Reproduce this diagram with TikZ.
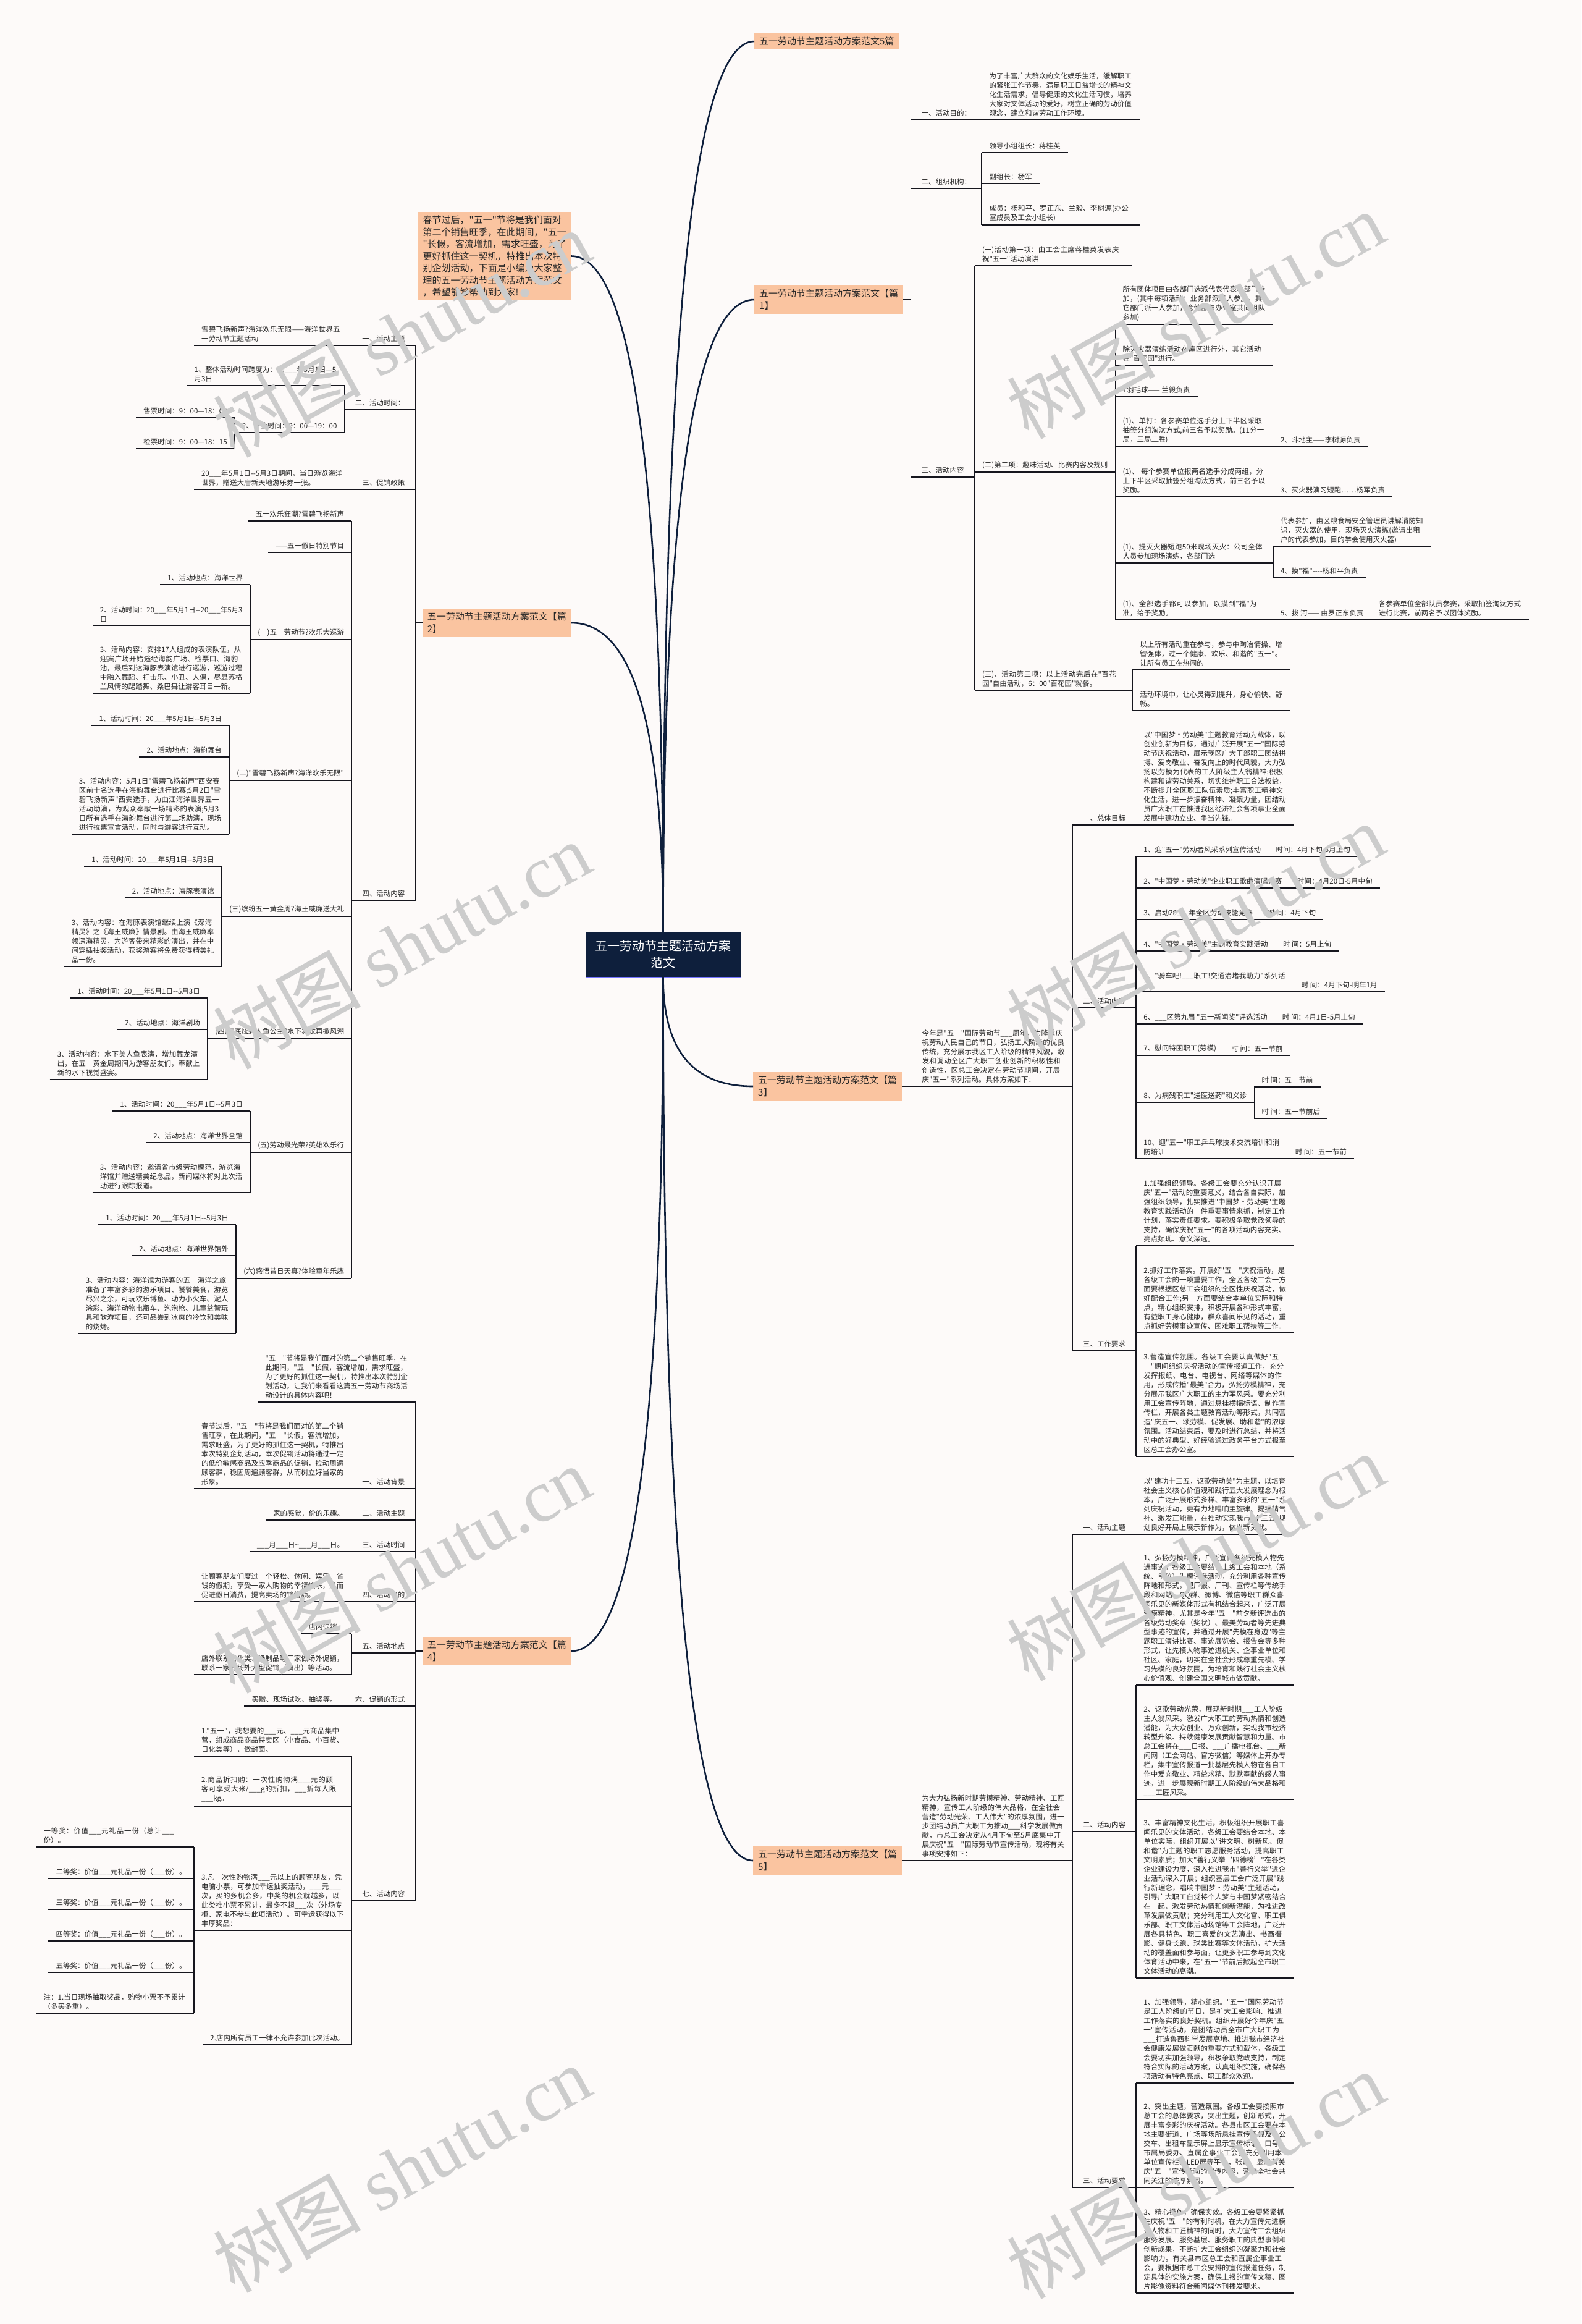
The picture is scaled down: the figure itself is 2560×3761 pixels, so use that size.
\documentclass[tikz,border=0pt]{standalone}
\usepackage{fontspec}
\setmainfont{Noto Sans CJK SC}[Ligatures=TeXOff]
\newfontfamily\wmfont{Liberation Serif}
\usetikzlibrary{calc}
\XeTeXlinebreaklocale "zh"
\XeTeXlinebreakskip=0pt plus 1pt
\definecolor{bgc}{RGB}{253,250,249}
\definecolor{linec}{RGB}{22,22,30}
\definecolor{navy}{RGB}{14,31,60}
\definecolor{peach}{RGB}{250,196,160}
\newcommand\lf{\fontsize{11.5}{15}\selectfont}
\newcommand\hf{\fontsize{15}{19.5}\selectfont}
\newcommand\bl{\_\_\_}
\newcommand\dd{-{}-}

\begin{document}
\begin{tikzpicture}[x=1pt, y=-1pt,
  uline/.style={line width=1.8pt, draw=linec},
  branch/.style={line width=2.6pt, draw=navy},
  txt/.style={inner xsep=12pt, inner ysep=5pt, align=left, font=\lf, text=black!85,
    append after command={(\tikzlastnode.south west) edge[uline] (\tikzlastnode.south east)}},
  lab/.style={txt, inner xsep=17pt},
  para/.style={txt, text width=#1}, para/.default=231pt,
  head/.style={fill=peach, inner xsep=8pt, inner ysep=6pt, align=left, font=\hf, text=black!85},
  rootbox/.style={fill=navy, draw=blue!55!white, line width=0.8pt, text=white, align=center,
    font=\fontsize{20}{27}\selectfont, minimum width=251pt, minimum height=73pt},
  wmark/.style={rotate=29, text=black!20, font=\fontsize{120}{120}\selectfont}]
\useasboundingbox (0,0) rectangle (2560,3761);
\fill[bgc] (0,0) rectangle (2560,3761);

% root and main branches
\node[rootbox] (root) at (1073.5,1544.5) {五一劳动节主题活动方案\\范文};
\node[head, anchor=west] (h5) at (1221,67) {五一劳动节主题活动方案范文5篇};
\node[head, anchor=west] (h1) at (1221,485) {五一劳动节主题活动方案范文【篇\\1】};
\node[head, anchor=east] (h0) at (925,414.5) {春节过后，"五一"节将是我们面对\\第二个销售旺季，在此期间，"五一\\"长假，客流增加，需求旺盛，为了\\更好抓住这一契机，特推出本次特\\别企划活动，下面是小编为大家整\\理的五一劳动节主题活动方案范文\\，希望能够帮助到大家!};
\node[head, anchor=east] (h2) at (925,1008) {五一劳动节主题活动方案范文【篇\\2】};
\node[head, anchor=west] (h3) at (1219,1758) {五一劳动节主题活动方案范文【篇\\3】};
\node[head, anchor=east] (h4) at (925,2672) {五一劳动节主题活动方案范文【篇\\4】};
\node[head, anchor=west] (h6) at (1219,3011) {五一劳动节主题活动方案范文【篇\\5】};
\foreach \h/\a in {h5/west, h1/west, h0/east, h2/east}
  \draw[branch] (root.north) .. controls ($(root.north)!0.67!(root.north |- \h.\a)$) and ($(\h.\a)!0.67!(root.north |- \h.\a)$) .. (\h.\a);
\foreach \h/\a in {h3/west, h4/east, h6/west}
  \draw[branch] (root.south) .. controls ($(root.south)!0.67!(root.south |- \h.\a)$) and ($(\h.\a)!0.67!(root.south |- \h.\a)$) .. (\h.\a);

% 篇1
\coordinate (s1) at ([xshift=12pt]h1.east);
\node[lab, anchor=south west] (p1a) at (s1 |- 0,194) {一、活动目的：};
\node[para, anchor=south west] (p1at) at (p1a.south east) {为了丰富广大群众的文化娱乐生活，缓解职工的紧张工作节奏，满足职工日益增长的精神文化生活需求，倡导健康的文化生活习惯，培养大家对文体活动的爱好，树立正确的劳动价值观念，建立和谐劳动工作环境。};
\node[lab, anchor=south west] (p1b) at (s1 |- 0,305) {二、组织机构：};
\node[txt, anchor=south west] (p1b1) at (p1b.south east |- 0,247) {领导小组组长：蒋桂英};
\node[txt, anchor=south west] (p1b2) at (p1b.south east |- 0,297) {副组长：杨军};
\node[para, anchor=south west] (p1b3) at (p1b.south east |- 0,364) {成员：杨和平、罗正东、兰毅、李树源(办公室成员及工会小组长)};
\node[lab, anchor=south west] (p1c) at (s1 |- 0,772) {三、活动内容};
\node[para, anchor=south west] (p1c1) at (p1c.south east |- 0,430) {(一)活动第一项：由工会主席蒋桂英发表庆祝"五一"活动演讲};
\node[txt, anchor=south west] (p1c2) at (p1c.south east |- 0,764) {(二)第二项：趣味活动、比赛内容及规则};
\node[para, anchor=south west] (p1c3) at (p1c.south east |- 0,1117) {(三)、活动第三项：以上活动完后在"百花园"自由活动，6：00"百花园"就餐。};
\node[para, anchor=south west] (p1d1) at (p1c2.south east |- 0,525) {所有团体项目由各部门选派代表代表本部门参加，(其中每项活动：业务部派三人参加，其它部门派一人参加，仓储部与办公室共同组队参加)};
\node[para, anchor=south west] (p1d2) at (p1c2.south east |- 0,591) {除灭火器演练活动在库区进行外，其它活动在"百花园"进行。};
\node[txt, anchor=south west] (p1d3) at (p1c2.south east |- 0,642) {1羽毛球—— 兰毅负责};
\node[para, anchor=south west] (p1d4) at (p1c2.south east |- 0,723) {(1)、单打：各参赛单位选手分上下半区采取抽签分组淘汰方式,前三名予以奖励。(11分一局，三局二胜)};
\node[txt, anchor=south west] (p1d4a) at (p1d4.south east) {2、斗地主——李树源负责};
\node[para, anchor=south west] (p1d5) at (p1c2.south east |- 0,804) {(1)、 每个参赛单位报两名选手分成两组，分上下半区采取抽签分组淘汰方式，前三名予以奖励。};
\node[txt, anchor=south west] (p1d5a) at (p1d5.south east) {3、灭火器演习短跑……杨军负责};
\node[para, anchor=south west] (p1d6) at (p1c2.south east |- 0,911) {(1)、提灭火器短跑50米现场灭火：公司全体人员参加现场演练，各部门选};
\node[para, anchor=south west] (p1d6a) at (p1d6.south east |- 0,885) {代表参加，由区粮食局安全管理员讲解消防知识，灭火器的使用，现场灭火演练(邀请出租户的代表参加，目的学会使用灭火器)};
\node[txt, anchor=south west] (p1d6b) at (p1d6.south east |- 0,935) {4、摸"福"----杨和平负责};
\node[para, anchor=south west] (p1d7) at (p1c2.south east |- 0,1003) {(1)、全部选手都可以参加，以摸到"福"为准，给予奖励。};
\node[txt, anchor=south west] (p1d7a) at (p1d7.south east) {5、拔 河—— 由罗正东负责};
\node[para, anchor=south west] (p1d7b) at (p1d7a.south east) {各参赛单位全部队员参赛，采取抽签淘汰方式进行比赛，前两名予以团体奖励。};
\node[para, anchor=south west] (p1e1) at (p1c3.south east |- 0,1084) {以上所有活动重在参与，参与中陶冶情操、增智强体，过一个健康、欢乐、和谐的"五一"。让所有员工在热闹的};
\node[para, anchor=south west] (p1e2) at (p1c3.south east |- 0,1150) {活动环境中，让心灵得到提升，身心愉快、舒畅。};
\draw[uline] (h1.east) -- (s1);
\foreach \c in {p1a,p1b,p1c} \draw[uline] (s1) |- (\c.south west);
\foreach \c in {p1b1,p1b2,p1b3} \draw[uline] (p1b.south east) |- (\c.south west);
\foreach \c in {p1c1,p1c2,p1c3} \draw[uline] (p1c.south east) |- (\c.south west);
\foreach \c in {p1d1,p1d2,p1d3,p1d4,p1d5,p1d6,p1d7} \draw[uline] (p1c2.south east) |- (\c.south west);
\foreach \c in {p1d6a,p1d6b} \draw[uline] (p1d6.south east) |- (\c.south west);
\foreach \c in {p1e1,p1e2} \draw[uline] (p1c3.south east) |- (\c.south west);

% 篇2
\coordinate (s2) at ([xshift=-11pt]h2.west);
\node[lab, anchor=south east] (p2a) at (s2 |- 0,559) {一、活动主题};
\node[para, anchor=south east] (p2at) at (p2a.south west) {雪碧飞扬新声?海洋欢乐无限——海洋世界五一劳动节主题活动};
\node[lab, anchor=south east] (p2b) at (s2 |- 0,663) {二、活动时间：};
\node[para, anchor=south east] (p2b1) at (p2b.south west |- 0,624) {1、整体活动时间跨度为：20\bl{}年5月1日—5月3日};
\node[txt, anchor=south east] (p2b2) at (p2b.south west |- 0,700) {2、营业时间：9：00—19：00};
\node[txt, anchor=south east] (p2b2a) at (p2b2.south west |- 0,676) {售票时间：9：00—18：00};
\node[txt, anchor=south east] (p2b2b) at (p2b2.south west |- 0,726) {检票时间：9：00—18：15};
\node[lab, anchor=south east] (p2c) at (s2 |- 0,792) {三、促销政策};
\node[para, anchor=south east] (p2ct) at (p2c.south west) {20\bl{}年5月1日\dd{}5月3日期间，当日游览海洋世界，赠送大唐新天地游乐券一张。};
\node[lab, anchor=south east] (p2d) at (s2 |- 0,1457) {四、活动内容};
\node[txt, anchor=south east] (p2d1) at (p2d.south west |- 0,843) {五一欢乐狂潮?雪碧飞扬新声};
\node[txt, anchor=south east] (p2d2) at (p2d.south west |- 0,894) {——五一假日特别节目};
\node[txt, anchor=south east] (p2d3) at (p2d.south west |- 0,1035) {(一)五一劳动节?欢乐大巡游};
\node[txt, anchor=south east] (p2d3a) at (p2d3.south west |- 0,946) {1、活动地点：海洋世界};
\node[para, anchor=south east] (p2d3b) at (p2d3.south west |- 0,1012) {2、活动时间：20\bl{}年5月1日\dd{}20\bl{}年5月3日};
\node[para, anchor=south east] (p2d3c) at (p2d3.south west |- 0,1122) {3、活动内容：安排17人组成的表演队伍，从迎宾广场开始途经海韵广场、检票口、海豹池，最后到达海豚表演馆进行巡游，巡游过程中融入舞蹈、打击乐、小丑、人偶，尽显苏格兰风情的踢踏舞、桑巴舞让游客耳目一新。};
\node[txt, anchor=south east] (p2d4) at (p2d.south west |- 0,1263) {(二)"雪碧飞扬新声?海洋欢乐无限"};
\node[txt, anchor=south east] (p2d4a) at (p2d4.south west |- 0,1174) {1、活动时间：20\bl{}年5月1日\dd{}5月3日};
\node[txt, anchor=south east] (p2d4b) at (p2d4.south west |- 0,1225) {2、活动地点：海韵舞台};
\node[para, anchor=south east] (p2d4c) at (p2d4.south west |- 0,1350) {3、活动内容：5月1日"雪碧飞扬新声"西安赛区前十名选手在海韵舞台进行比赛;5月2日"雪碧飞扬新声"西安选手，为曲江海洋世界五一活动助演，为观众奉献一场精彩的表演;5月3日所有选手在海韵舞台进行第二场助演，现场进行拉票宣言活动，同时与游客进行互动。};
\node[txt, anchor=south east] (p2d5) at (p2d.south west |- 0,1483) {(三)缤纷五一黄金周?海王威廉送大礼};
\node[txt, anchor=south east] (p2d5a) at (p2d5.south west |- 0,1402) {1、活动时间：20\bl{}年5月1日\dd{}5月3日};
\node[txt, anchor=south east] (p2d5b) at (p2d5.south west |- 0,1453) {2、活动地点：海豚表演馆};
\node[para, anchor=south east] (p2d5c) at (p2d5.south west |- 0,1564) {3、活动内容：在海豚表演馆继续上演《深海精灵》之《海王威廉》情景剧。由海王威廉率领深海精灵，为游客带来精彩的演出，并在中间穿插抽奖活动，获奖游客将免费获得精美礼品一份。};
\node[txt, anchor=south east] (p2d6) at (p2d.south west |- 0,1681) {(四)海底炫彩人鱼公主?水下舞龙再掀风潮};
\node[txt, anchor=south east] (p2d6a) at (p2d6.south west |- 0,1615) {1、活动时间：20\bl{}年5月1日\dd{}5月3日};
\node[txt, anchor=south east] (p2d6b) at (p2d6.south west |- 0,1666) {2、活动地点：海洋剧场};
\node[para, anchor=south east] (p2d6c) at (p2d6.south west |- 0,1747) {3、活动内容：水下美人鱼表演，增加舞龙演出，在五一黄金周期间为游客朋友们，奉献上新的水下视觉盛宴。};
\node[txt, anchor=south east] (p2d7) at (p2d.south west |- 0,1865) {(五)劳动最光荣?英雄欢乐行};
\node[txt, anchor=south east] (p2d7a) at (p2d7.south west |- 0,1798) {1、活动时间：20\bl{}年5月1日\dd{}5月3日};
\node[txt, anchor=south east] (p2d7b) at (p2d7.south west |- 0,1849) {2、活动地点：海洋世界全馆};
\node[para, anchor=south east] (p2d7c) at (p2d7.south west |- 0,1930) {3、活动内容：邀请省市级劳动模范，游览海洋馆并赠送精美纪念品，新闻媒体将对此次活动进行跟踪报道。};
\node[txt, anchor=south east] (p2d8) at (p2d.south west |- 0,2069) {(六)感悟昔日天真?体验童年乐趣};
\node[txt, anchor=south east] (p2d8a) at (p2d8.south west |- 0,1982) {1、活动时间：20\bl{}年5月1日\dd{}5月3日};
\node[txt, anchor=south east] (p2d8b) at (p2d8.south west |- 0,2032) {2、活动地点：海洋世界馆外};
\node[para, anchor=south east] (p2d8c) at (p2d8.south west |- 0,2158) {3、活动内容：海洋馆为游客的五一海洋之旅准备了丰富多彩的游乐项目、饕餮美食，游览尽兴之余，可玩欢乐博鱼、动力小火车、泥人涂彩、海洋动物电瓶车、泡泡枪、儿童益智玩具和软游项目，还可品尝到冰爽的冷饮和美味的烧烤。};
\draw[uline] (h2.west) -- (s2);
\foreach \c in {p2a,p2b,p2c,p2d} \draw[uline] (s2) |- (\c.south east);
\foreach \c in {p2b1,p2b2} \draw[uline] (p2b.south west) |- (\c.south east);
\foreach \c in {p2b2a,p2b2b} \draw[uline] (p2b2.south west) |- (\c.south east);
\foreach \c in {p2d1,p2d2,p2d3,p2d4,p2d5,p2d6,p2d7,p2d8} \draw[uline] (p2d.south west) |- (\c.south east);
\foreach \p in {p2d3,p2d4,p2d5,p2d6,p2d7,p2d8}
  \foreach \c in {a,b,c} \draw[uline] (\p.south west) |- (\p\c.south east);

% 篇3
\node[para, anchor=south west] (p3i) at ([xshift=20pt]h3.east) {今年是"五一"国际劳动节\bl{}周年，为隆重庆祝劳动人民自己的节日，弘扬工人阶级的优良传统，充分展示我区工人阶级的精神风貌，激发和调动全区广大职工创业创新的积极性和创造性，区总工会决定在劳动节期间，开展庆"五一"系列活动。具体方案如下：};
\node[lab, anchor=south west] (p3a) at (p3i.south east |- 0,1335) {一、总体目标};
\node[para, anchor=south west] (p3at) at (p3a.south east) {以"中国梦·劳动美"主题教育活动为载体，以创业创新为目标，通过广泛开展"五一"国际劳动节庆祝活动，展示我区广大干部职工团结拼搏、爱岗敬业、奋发向上的时代风貌，大力弘扬以劳模为代表的工人阶级主人翁精神;积极构建和谐劳动关系，切实维护职工合法权益，不断提升全区职工队伍素质;丰富职工精神文化生活，进一步振奋精神、凝聚力量，团结动员广大职工在推进我区经济社会各项事业全面发展中建功立业、争当先锋。};
\node[lab, anchor=south west] (p3b) at (p3i.south east |- 0,1631) {二、活动内容};
\node[txt, anchor=south west] (p3b1) at (p3b.south east |- 0,1386) {1、迎"五一"劳动者风采系列宣传活动};
\node[txt, anchor=south west] (p3b1t) at (p3b1.south east) {时间：4月下旬-5月上旬};
\node[txt, anchor=south west] (p3b2) at (p3b.south east |- 0,1437) {2、"中国梦·劳动美"企业职工歌曲演唱大赛};
\node[txt, anchor=south west] (p3b2t) at (p3b2.south east) {时间：4月20日-5月中旬};
\node[txt, anchor=south west] (p3b3) at (p3b.south east |- 0,1488) {3、启动20\bl{}年全区劳动技能竞赛};
\node[txt, anchor=south west] (p3b3t) at (p3b3.south east) {时 间：4月下旬};
\node[txt, anchor=south west] (p3b4) at (p3b.south east |- 0,1539) {4、"中国梦·劳动美"主题教育实践活动};
\node[txt, anchor=south west] (p3b4t) at (p3b4.south east) {时 间：5月上旬};
\node[para, anchor=south west] (p3b5) at (p3b.south east |- 0,1605) {5、"骑车吧!\bl{}职工!交通治堵我助力"系列活动};
\node[txt, anchor=south west] (p3b5t) at (p3b5.south east) {时 间：4月下旬-明年1月};
\node[txt, anchor=south west] (p3b6) at (p3b.south east |- 0,1657) {6、\bl{}区第九届 "五一新闻奖"评选活动};
\node[txt, anchor=south west] (p3b6t) at (p3b6.south east) {时 间：4月1日-5月上旬};
\node[txt, anchor=south west] (p3b7) at (p3b.south east |- 0,1708) {7、慰问特困职工(劳模)};
\node[txt, anchor=south west] (p3b7t) at (p3b7.south east) {时 间：五一节前};
\node[txt, anchor=south west] (p3b8) at (p3b.south east |- 0,1784) {8、为病残职工"送医送药"和义诊};
\node[txt, anchor=south west] (p3b8a) at (p3b8.south east |- 0,1759) {时 间：五一节前};
\node[txt, anchor=south west] (p3b8b) at (p3b8.south east |- 0,1810) {时 间：五一节前后};
\node[para=221pt, anchor=south west] (p3b9) at (p3b.south east |- 0,1875) {10、迎"五一"职工乒乓球技术交流培训和消防培训};
\node[txt, anchor=south west] (p3b9t) at (p3b9.south east) {时 间：五一节前};
\node[lab, anchor=south west] (p3c) at (p3i.south east |- 0,2186) {三、工作要求};
\node[para, anchor=south west] (p3c1) at (p3c.south east |- 0,2016) {1.加强组织领导。各级工会要充分认识开展庆"五一"活动的重要意义，结合各自实际，加强组织领导，扎实推进"中国梦·劳动美"主题教育实践活动的一件重要事情来抓，制定工作计划，落实责任要求。要积极争取党政领导的支持，确保庆祝"五一"的各项活动内容充实、亮点频现、意义深远。};
\node[para, anchor=south west] (p3c2) at (p3c.south east |- 0,2157) {2.抓好工作落实。开展好"五一"庆祝活动，是各级工会的一项重要工作，全区各级工会一方面要根据区总工会组织的全区性庆祝活动，做好配合工作;另一方面要结合本单位实际和特点，精心组织安排，积极开展各种形式丰富，有益职工身心健康，群众喜闻乐见的活动，重点抓好劳模事迹宣传、困难职工帮扶等工作。};
\node[para, anchor=south west] (p3c3) at (p3c.south east |- 0,2357) {3.营造宣传氛围。各级工会要认真做好"五一"期间组织庆祝活动的宣传报道工作，充分发挥报纸、电台、电视台、网络等媒体的作用，形成传播"最美"合力，弘扬劳模精神，充分展示我区广大职工的主力军风采。要充分利用工会宣传阵地，通过悬挂横幅标语、制作宣传栏，开展各类主题教育活动等形式，共同营造"庆五一、颂劳模、促发展、助和谐"的浓厚氛围。活动结束后，要及时进行总结，并将活动中的好典型、好经验通过政务平台方式报至区总工会办公室。};
\draw[uline] (h3.east) -- (p3i.south west);
\foreach \c in {p3a,p3b,p3c} \draw[uline] (p3i.south east) |- (\c.south west);
\foreach \c in {p3b1,p3b2,p3b3,p3b4,p3b5,p3b6,p3b7,p3b8,p3b9} \draw[uline] (p3b.south east) |- (\c.south west);
\foreach \c in {p3b8a,p3b8b} \draw[uline] (p3b8.south east) |- (\c.south west);
\foreach \c in {p3c1,p3c2,p3c3} \draw[uline] (p3c.south east) |- (\c.south west);

% 篇4
\coordinate (s4) at ([xshift=-11pt]h4.west);
\node[para, anchor=south east] (p4i) at (s4 |- 0,2269) {"五一"节将是我们面对的第二个销售旺季，在此期间，"五一"长假，客流增加，需求旺盛，为了更好的抓住这一契机，特推出本次特别企划活动，让我们来看看这篇五一劳动节商场活动设计的具体内容吧！};
\node[lab, anchor=south east] (p4a) at (s4 |- 0,2409) {一、活动背景};
\node[para, anchor=south east] (p4at) at (p4a.south west) {春节过后，"五一"节将是我们面对的第二个销售旺季，在此期间，"五一"长假，客流增加，需求旺盛，为了更好的抓住这一契机，特推出本次特别企划活动，本次促销活动将通过一定的低价敏感商品及应季商品的促销，拉动周遍顾客群，稳固周遍顾客群，从而树立好当家的形象。};
\node[lab, anchor=south east] (p4b) at (s4 |- 0,2460) {二、活动主题};
\node[txt, anchor=south east] (p4bt) at (p4b.south west) {家的感觉，价的乐趣。};
\node[lab, anchor=south east] (p4c) at (s4 |- 0,2511) {三、活动时间};
\node[txt, anchor=south east] (p4ct) at (p4c.south west) {\bl{}月\bl{}日\textasciitilde\bl{}月\bl{}日。};
\node[lab, anchor=south east] (p4d) at (s4 |- 0,2592) {四、活动目的};
\node[para, anchor=south east] (p4dt) at (p4d.south west) {让顾客朋友们度过一个轻松、休闲、娱乐、省钱的假期，享受一家人购物的幸福快乐，从而促进假日消费，提高卖场的销售额。};
\node[lab, anchor=south east] (p4e) at (s4 |- 0,2675) {五、活动地点};
\node[txt, anchor=south east] (p4e1) at (p4e.south west |- 0,2644) {店内促销。};
\node[para, anchor=south east] (p4e2) at (p4e.south west |- 0,2710) {店外联系日化类、奶制品等厂家做场外促销，联系一家做场外大型促销（演出）等活动。};
\node[lab, anchor=south east] (p4f) at (s4 |- 0,2761) {六、促销的形式};
\node[txt, anchor=south east] (p4ft) at (p4f.south west) {买赠、现场试吃、抽奖等。};
\node[lab, anchor=south east] (p4g) at (s4 |- 0,3076) {七、活动内容};
\node[para, anchor=south east] (p4g1) at (p4g.south west |- 0,2842) {1."五一"，我想要的\bl{}元、\bl{}元商品集中营，组成商品商品特卖区（小食品、小百货、日化类等），做封面。};
\node[para, anchor=south east] (p4g2) at (p4g.south west |- 0,2923) {2.商品折扣购：一次性购物满\bl{}元的顾客可享受大米/\bl{}g的折扣，\bl{}折每人限\bl{}kg。};
\node[para, anchor=south east] (p4g3) at (p4g.south west |- 0,3124) {3.凡一次性购物满\bl{}元以上的顾客朋友，凭电脑小票，可参加幸运抽奖活动，\bl{}元\bl{}次，买的多机会多，中奖的机会就越多，以此类推小票不累计，最多不超\bl{}次（外场专柜、家电不参与此项活动）。可幸运获得以下丰厚奖品：};
\node[txt, anchor=south east] (p4g4) at (p4g.south west |- 0,3309) {2.店内所有员工一律不允许参加此次活动。};
\node[para, anchor=south east] (p4h1) at (p4g3.south west |- 0,2989) {一等奖：价值\bl{}元礼品一份（总计\bl{}份）。};
\node[txt, anchor=south east] (p4h2) at (p4g3.south west |- 0,3040) {二等奖：价值\bl{}元礼品一份（\bl{}份）。};
\node[txt, anchor=south east] (p4h3) at (p4g3.south west |- 0,3090) {三等奖：价值\bl{}元礼品一份（\bl{}份）。};
\node[txt, anchor=south east] (p4h4) at (p4g3.south west |- 0,3141) {四等奖：价值\bl{}元礼品一份（\bl{}份）。};
\node[txt, anchor=south east] (p4h5) at (p4g3.south west |- 0,3192) {五等奖：价值\bl{}元礼品一份（\bl{}份）。};
\node[para, anchor=south east] (p4h6) at (p4g3.south west |- 0,3258) {注：1.当日现场抽取奖品，购物小票不予累计（多买多重）。};
\draw[uline] (h4.west) -- (s4);
\foreach \c in {p4i,p4a,p4b,p4c,p4d,p4e,p4f,p4g} \draw[uline] (s4) |- (\c.south east);
\foreach \c in {p4e1,p4e2} \draw[uline] (p4e.south west) |- (\c.south east);
\foreach \c in {p4g1,p4g2,p4g3,p4g4} \draw[uline] (p4g.south west) |- (\c.south east);
\foreach \c in {p4h1,p4h2,p4h3,p4h4,p4h5,p4h6} \draw[uline] (p4g3.south west) |- (\c.south east);

% 篇5
\node[para, anchor=south west] (p5i) at ([xshift=20pt]h6.east) {为大力弘扬新时期劳模精神、劳动精神、工匠精神，宣传工人阶级的伟大品格，在全社会营造"劳动光荣、工人伟大"的浓厚氛围，进一步团结动员广大职工为推动\bl{}科学发展做贡献，市总工会决定从4月下旬至5月底集中开展庆祝"五一"国际劳动节宣传活动，现将有关事项安排如下：};
\node[lab, anchor=south west] (p5a) at (p5i.south east |- 0,2483) {一、活动主题};
\node[para, anchor=south west] (p5at) at (p5a.south east) {以"建功十三五，讴歌劳动美"为主题，以培育社会主义核心价值观和践行五大发展理念为根本，广泛开展形式多样、丰富多彩的"五一"系列庆祝活动，更有力地唱响主旋律、提振精气神、激发正能量，在推动实现我市"十三五"规划良好开局上展示新作为，做出新贡献。};
\node[lab, anchor=south west] (p5b) at (p5i.south east |- 0,2964) {二、活动内容};
\node[para, anchor=south west] (p5b1) at (p5b.south east |- 0,2727) {1、弘扬劳模精神，广泛宣传各级先模人物先进事迹。各级工会要结合上级工会和本地（系统、单位）先模评选活动，充分利用各种宣传阵地和形式，把厂报、厂刊、宣传栏等传统手段和网站、QQ群、微博、微信等职工群众喜闻乐见的新媒体形式有机结合起来，广泛开展劳模精神，尤其是今年"五一"前夕新评选出的各级劳动奖章（奖状）、最美劳动者等先进典型事迹的宣传，并通过开展"先模在身边"等主题职工演讲比赛、事迹展览会、报告会等多种形式，让先模人物事迹进机关、企事业单位和社区、家庭，切实在全社会形成尊重先模、学习先模的良好氛围，为培育和践行社会主义核心价值观、创建全国文明城市做贡献。};
\node[para, anchor=south west] (p5b2) at (p5b.south east |- 0,2912) {2、讴歌劳动光荣，展现新时期\bl{}工人阶级主人翁风采。激发广大职工的劳动热情和创造潜能，为大众创业、万众创新，实现我市经济转型升级、持续健康发展贡献智慧和力量。市总工会将在\bl{}日报、\bl{}广播电视台、\bl{}新闻网（工会网站、官方微信）等媒体上开办专栏，集中宣传报道一批基层先模人物在各自工作中爱岗敬业、精益求精、默默奉献的感人事迹，进一步展现新时期工人阶级的伟大品格和\bl{}工匠风采。};
\node[para, anchor=south west] (p5b3) at (p5b.south east |- 0,3201) {3、丰富精神文化生活，积极组织开展职工喜闻乐见的文体活动。各级工会要结合本地、本单位实际，组织开展以"讲文明、树新风、促和谐"为主题的职工志愿服务活动，提高职工文明素质；加大"善行义举‘四德榜’"在各类企业建设力度，深入推进我市"善行义举"进企业活动深入开展；组织基层工会广泛开展"践行新理念，唱响中国梦·劳动美"主题活动，引导广大职工自觉将个人梦与中国梦紧密结合在一起，激发劳动热情和创新潜能，为推进改革发展做贡献；充分利用工人文化宫、职工俱乐部、职工文体活动场馆等工会阵地，广泛开展各具特色、职工喜爱的文艺演出、书画摄影、健身长跑、球类比赛等文体活动，扩大活动的覆盖面和参与面，让更多职工参与到文化体育活动中来，在"五一"节前后掀起全市职工文体活动的高潮。};
\node[lab, anchor=south west] (p5c) at (p5i.south east |- 0,3540) {三、活动要求};
\node[para, anchor=south west] (p5c1) at (p5c.south east |- 0,3371) {1、加强领导，精心组织。"五一"国际劳动节是工人阶级的节日，是扩大工会影响、推进工作落实的良好契机。组织开展好今年庆"五一"宣传活动，是团结动员全市广大职工为\bl{}打造鲁西科学发展高地、推进我市经济社会健康发展做贡献的重要方式和载体，各级工会要切实加强领导，积极争取党政支持，制定符合实际的活动方案，认真组织实施，确保各项活动有特色亮点、职工群众欢迎。};
\node[para, anchor=south west] (p5c2) at (p5c.south east |- 0,3540) {2、突出主题，营造氛围。各级工会要按照市总工会的总体要求，突出主题，创新形式，开展丰富多彩的庆祝活动。各县市区工会要在本地主要街道、广场等场所悬挂宣传条幅及在公交车、出租车显示屏上显示宣传标语、口号；市属局委办、直属企事业工会要充分利用本单位宣传栏、LED屏等平台，张贴、显示有关庆"五一"宣传活动的宣传内容，营造全社会共同关注的浓厚氛围。};
\node[para, anchor=south west] (p5c3) at (p5c.south east |- 0,3711) {3、精心操作，确保实效。各级工会要紧紧抓住庆祝"五一"的有利时机，在大力宣传先进模范人物和工匠精神的同时，大力宣传工会组织服务发展、服务基层、服务职工的典型事例和创新成果，不断扩大工会组织的凝聚力和社会影响力。有关县市区总工会和直属企事业工会，要根据市总工会安排的宣传报道任务，制定具体的实施方案，确保上报的宣传文稿、图片影像资料符合新闻媒体刊播发要求。};
\draw[uline] (h6.east) -- (p5i.south west);
\foreach \c in {p5a,p5b,p5c} \draw[uline] (p5i.south east) |- (\c.south west);
\foreach \c in {p5b1,p5b2,p5b3} \draw[uline] (p5b.south east) |- (\c.south west);
\foreach \c in {p5c1,p5c2,p5c3} \draw[uline] (p5c.south east) |- (\c.south west);

% watermark
\foreach \wx/\wy [count=\i] in {650/540, 1935/510, 650/1530, 1935/1500, 650/2540, 1935/2520, 650/3510, 1935/3520}
  \node[wmark] (wm\i) at (\wx,\wy) {树图 {\wmfont shutu.cn}};
\end{tikzpicture}
\end{document}
